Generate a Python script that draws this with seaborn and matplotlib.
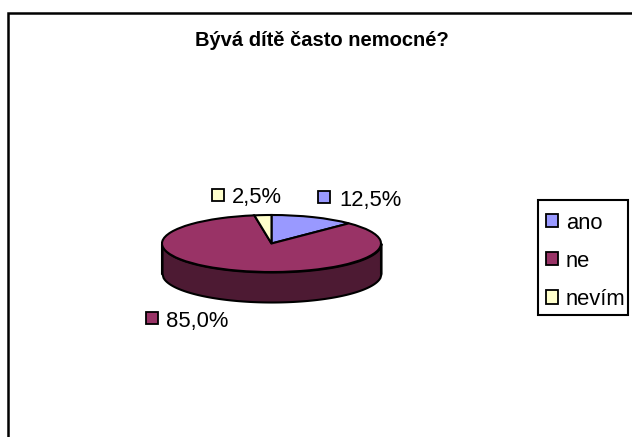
import numpy as np
import matplotlib.pyplot as plt
from matplotlib.patches import Patch, Rectangle
import seaborn as sns

sns.set_theme(style='white')
plt.rcParams['font.family'] = ['Liberation Sans', 'DejaVu Sans']

# Data
categories = ['ano', 'ne', 'nevím']
shares = [12.5, 85.0, 2.5]
share_labels = ['12,5%', '85,0%', '2,5%']
colors = sns.color_palette(['#9999FF', '#993366', '#FFFFCC'])
side_color = '#4D1A33'
title = 'Bývá dítě často nemocné?'

W, H = 632, 437
fig = plt.figure(figsize=(W/100, H/100), dpi=100)

def px_box(x0, y0, x1, y1):
    return [x0/W, 1 - y1/H, (x1-x0)/W, (y1-y0)/H]

# outer chart frame, cut off at right and bottom
fig.add_artist(Rectangle((8/W, -0.05), 1, 1 - 12.5/H + 0.05, transform=fig.transFigure,
                         fill=False, ec='black', lw=1.8))
fig.text(321.5/W, 1 - 40/H, title, ha='center', va='center', fontsize=14.5, fontweight='bold', color='black')

# squashed pie, radius 1 maps onto the ellipse
ax = fig.add_axes(px_box(162, 215, 381, 272))
ax.pie(shares, colors=colors, startangle=90, counterclock=False, radius=1, frame=False,
       wedgeprops={'edgecolor': 'black', 'linewidth': 1.5, 'clip_on': False})
ax.set_aspect('auto')
ax.set_xlim(-1, 1)
ax.set_ylim(-1, 1)
depth = 30 / 28.5
xs = np.linspace(-1, 1, 200)
rim = -np.sqrt(1 - xs**2)
ax.fill_between(xs, rim, rim - depth, color=side_color, ec='black', lw=1.5, clip_on=False, zorder=0)
ax.plot([-1, -1], [0, -depth], color='black', lw=1.5, clip_on=False, zorder=0.5)
ax.plot([1, 1], [0, -depth], color='black', lw=1.5, clip_on=False, zorder=0.5)

# slice labels with colour keys
label_pos = [(339, 200), (166, 321), (232, 198)]
key_pos = [(318, 190.5), (146, 312), (212, 188.5)]
for lab, c, (tx, ty), (kx, ky) in zip(share_labels, colors, label_pos, key_pos):
    fig.text(tx/W, 1 - ty/H, lab, ha='left', va='center', fontsize=15.8, color='black')
    fig.add_artist(Rectangle((kx/W, 1 - (ky+12)/H), 12/W, 12/H, transform=fig.transFigure,
                             fc=c, ec='black', lw=1.3))

# legend, box drawn separately so the padding can differ per side
fig.add_artist(Rectangle((537.5/W, 1 - 315/H), 90.5/W, 115/H, transform=fig.transFigure,
                         fc='white', ec='black', lw=1.5))
handles = [Patch(fc=c, ec='black', lw=1.3) for c in colors]
leg = fig.legend(handles, categories, loc='upper left', bbox_to_anchor=(546/W, 1 - 212.5/H),
                 fontsize=15.8, frameon=False, handlelength=0.54, handleheight=0.54,
                 handletextpad=0.36, labelspacing=0.78, borderpad=0, borderaxespad=0,
                 labelcolor='black')
leg.set_zorder(5)

fig.savefig('out.png', dpi=100, facecolor='white')
